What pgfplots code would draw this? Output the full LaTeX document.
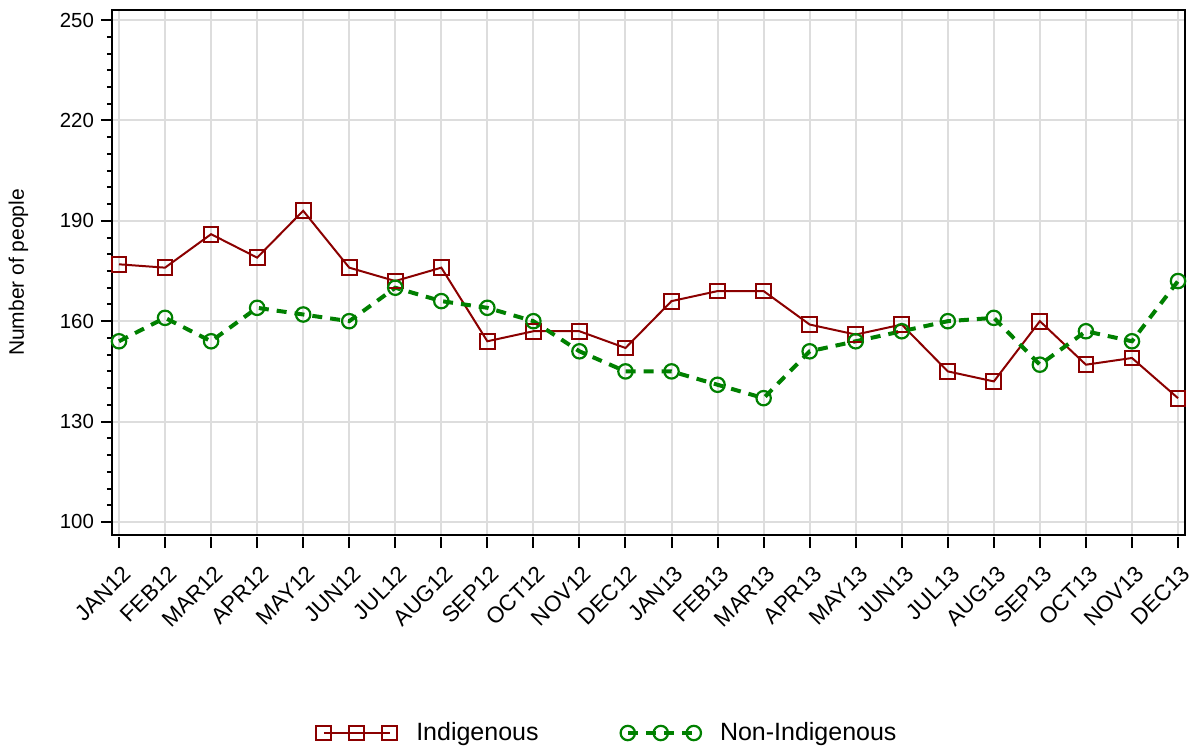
\documentclass[border=0pt]{standalone}
\usepackage{pgfplots}
\pgfplotsset{compat=1.18}
\usepackage{fontspec}
\setmainfont{Liberation Sans}
\definecolor{ired}{RGB}{139,0,0}
\definecolor{ngreen}{RGB}{0,128,0}
\definecolor{gridgray}{RGB}{221,221,221}
\begin{document}
\begin{tikzpicture}
\useasboundingbox (-56pt,-108pt) rectangle (540pt,267.5pt);
\begin{axis}[
  at={(0pt,0pt)}, anchor=south west,
  scale only axis,
  width=536.5pt, height=262.5pt,
  xmin=-0.152, xmax=23.152,
  ymin=96.1, ymax=253.0,
  axis line style={line width=1pt},
  /pgf/number format/assume math mode=true,
  tick align=outside,
  tick style={black, line width=1pt},
  major tick length=5.5pt,
  minor tick length=2.5pt,
  xtick={0,...,23},
  xticklabels={JAN12,FEB12,MAR12,APR12,MAY12,JUN12,JUL12,AUG12,SEP12,OCT12,NOV12,DEC12,JAN13,FEB13,MAR13,APR13,MAY13,JUN13,JUL13,AUG13,SEP13,OCT13,NOV13,DEC13},
  xtick pos=bottom,
  ytick pos=left,
  xtick style={yshift=-1pt},
  ytick={100,130,...,250},
  minor y tick num=5,
  xticklabel style={font=\fontsize{11.2pt}{13pt}\selectfont, rotate=45, anchor=north east, inner sep=0pt, yshift=-7pt, xshift=-5.5pt},
  yticklabel style={font=\fontsize{10.2pt}{12pt}\selectfont},
  ylabel={Number of people},
  ylabel shift=9pt,
  ylabel style={font=\fontsize{10.5pt}{12pt}\selectfont},
  grid=major,
  major grid style={gridgray, line width=1pt},
  legend columns=2,
  legend style={at={(axis description cs:0.5,0)}, anchor=center, yshift=-99pt, xshift=-20pt, draw=none, font=\fontsize{12.5pt}{14pt}\selectfont,
    /tikz/every odd column/.append style={column sep=7.5pt},
    /tikz/every even column/.append style={column sep=39pt}},
  legend cell align=left,
  legend image code/.code={\draw[mark repeat=1,mark phase=1] plot coordinates {(0pt,0pt) (16.5pt,0pt) (33pt,0pt)};},
]
\addplot[ired, line width=1pt, mark=square, mark size=3.7pt, mark options={solid, line width=1pt}] coordinates {
(0,177) (1,176) (2,186) (3,179) (4,193) (5,176) (6,172) (7,176) (8,154) (9,157) (10,157) (11,152)
(12,166) (13,169) (14,169) (15,159) (16,156) (17,159) (18,145) (19,142) (20,160) (21,147) (22,149) (23,137)};
\addlegendentry{Indigenous}
\addplot[ngreen, line width=2pt, dash pattern=on 5pt off 4pt, mark=o, mark size=3.6pt, mark options={solid, line width=1.1pt}] coordinates {
(0,154) (1,161) (2,154) (3,164) (4,162) (5,160) (6,170) (7,166) (8,164) (9,160) (10,151) (11,145)
(12,145) (13,141) (14,137) (15,151) (16,154) (17,157) (18,160) (19,161) (20,147) (21,157) (22,154) (23,172)};
\addlegendentry{Non-Indigenous}
\end{axis}
\end{tikzpicture}
\end{document}
